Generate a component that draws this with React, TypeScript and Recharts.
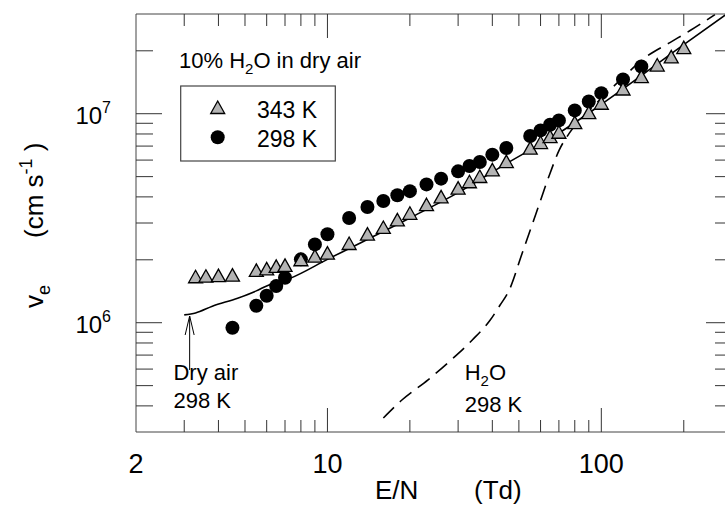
import React from "react";
import {
  ComposedChart,
  XAxis,
  YAxis,
  Scatter,
  Line,
  Legend,
  ReferenceLine,
  ReferenceDot,
} from "recharts";

const FONT = "'Liberation Sans', Arial, Helvetica, sans-serif";
const INK = "#333";
const GREY = "#b4b4b4";

// 10% H2O in dry air, 343 K: E/N (Td) and drift velocity (cm/s)
const en343 = [
  3.3, 3.6, 4.0, 4.5, 5.5, 6, 6.5, 7, 8, 9, 10, 12, 14, 16, 18, 20, 23, 26, 30,
  33, 36, 40, 45, 55, 60, 65, 70, 80, 90, 100, 120, 140, 160, 180, 200,
];
const ve343 = [
  1.65e6, 1.66e6, 1.67e6, 1.68e6, 1.77e6, 1.8e6, 1.85e6, 1.87e6, 1.99e6, 2.07e6,
  2.14e6, 2.38e6, 2.64e6, 2.84e6, 3.09e6, 3.32e6, 3.65e6, 3.98e6, 4.38e6, 4.7e6,
  4.98e6, 5.36e6, 5.87e6, 6.81e6, 7.24e6, 7.73e6, 8.11e6, 9.02e6, 1.007e7,
  1.116e7, 1.306e7, 1.496e7, 1.7e7, 1.86e7, 2.06e7,
];

// 10% H2O in dry air, 298 K
const en298 = [
  4.5, 5.5, 6, 6.5, 7, 8, 9, 10, 12, 14, 16, 18, 20, 23, 26, 30, 33, 36, 40, 45,
  55, 60, 65, 70, 80, 90, 100, 120, 140,
];
const ve298 = [
  9.46e5, 1.206e6, 1.346e6, 1.497e6, 1.64e6, 2.01e6, 2.37e6, 2.65e6, 3.17e6,
  3.58e6, 3.82e6, 4.07e6, 4.26e6, 4.59e6, 4.89e6, 5.3e6, 5.62e6, 5.87e6, 6.37e6,
  6.85e6, 7.82e6, 8.32e6, 8.86e6, 9.29e6, 1.037e7, 1.145e7, 1.254e7, 1.458e7,
  1.682e7,
];

// dry air 298 K (solid curve)
const dryEn = [3.0, 3.3, 3.8, 4.7, 5.5, 6.0, 7.3, 10, 20, 30, 45, 70, 100, 200, 285];
const dryVe = [
  1.09e6, 1.114e6, 1.2e6, 1.31e6, 1.42e6, 1.5e6, 1.63e6, 2.01e6, 3.17e6, 4.19e6,
  5.77e6, 8.08e6, 1.108e7, 2.14e7, 2.98e7,
];

// pure H2O 298 K (dashed curve)
const h2oEn = [
  16.0, 18.75, 23.3, 28.3, 33.8, 39.3, 42.7, 46.1, 51.4, 57.8, 65.0, 70.1, 76.3,
  87.3, 100.7, 121, 144.5, 178, 211, 260,
];
const h2oVe = [
  3.5e5, 4.28e5, 5.33e5, 6.64e5, 8.27e5, 1.03e6, 1.215e6, 1.433e6, 2.15e6,
  3.34e6, 5.19e6, 6.68e6, 8.05e6, 9.92e6, 1.196e7, 1.507e7, 1.857e7, 2.19e7,
  2.5e7, 2.98e7,
];

const xTicks = [2, 3, 4, 5, 6, 7, 8, 9, 10, 20, 30, 40, 50, 60, 70, 80, 90, 100, 200, 300];
const xMajor = [10, 100];
const xLabels: Record<number, string> = { 2: "2", 10: "10", 100: "100" };

const yTicks = [
  4e5, 5e5, 6e5, 7e5, 8e5, 9e5, 1e6, 2e6, 3e6, 4e6, 5e6, 6e6, 7e6, 8e6, 9e6, 1e7, 2e7,
];
const yMajor: Record<number, string> = { 1e6: "6", 1e7: "7" };

const NAME343 = "343 K";
const NAME298 = "298 K";

const zip = (xs: number[], ys: number[]) => xs.map((x, i) => ({ x, y: ys[i] }));
const pts343 = zip(en343, ve343);
const pts298 = zip(en298, ve298);
const dry = zip(dryEn, dryVe);
const h2o = zip(h2oEn, h2oVe);

function triPoints(cx: number, cy: number) {
  return `${cx},${cy - 7} ${cx + 7},${cy + 5.5} ${cx - 7},${cy + 5.5}`;
}

function Tri(p: any) {
  if (p.cx == null || p.cy == null) return null;
  return <polygon points={triPoints(p.cx, p.cy)} fill={GREY} stroke="#000" strokeWidth={1.3} />;
}

function Dot(p: any) {
  if (p.cx == null || p.cy == null) return null;
  return <circle cx={p.cx} cy={p.cy} r={7} fill="#000" />;
}

function BottomTick(p: any) {
  const v = p.payload.value;
  const len = xMajor.includes(v) ? 24 : 12;
  const edge = v === 2 || v === 300;
  return (
    <g>
      {!edge && <line x1={p.x} x2={p.x} y1={p.y} y2={p.y - len} stroke={INK} />}
      {xLabels[v] && (
        <text x={p.x} y={p.y + 41} textAnchor="middle" fontSize={27} fontFamily={FONT} fill="#000">
          {xLabels[v]}
        </text>
      )}
    </g>
  );
}

function TopTick(p: any) {
  const v = p.payload.value;
  if (v === 2 || v === 300) return <g />;
  const len = xMajor.includes(v) ? 24 : 12;
  return <line x1={p.x} x2={p.x} y1={p.y} y2={p.y + len} stroke={INK} />;
}

function LeftTick(p: any) {
  const v = p.payload.value;
  const exp = yMajor[v];
  const len = exp ? 26 : 17;
  return (
    <g>
      <line x1={p.x} x2={p.x + len} y1={p.y} y2={p.y} stroke={INK} />
      {exp && (
        <text x={p.x - 25} y={p.y + 10} textAnchor="end" fontSize={24} fontFamily={FONT} fill="#000">
          10
          <tspan dy={-11} fontSize={16}>
            {exp}
          </tspan>
        </text>
      )}
    </g>
  );
}

function RightTick(p: any) {
  const v = p.payload.value;
  const len = yMajor[v] ? 26 : 17;
  return <line x1={p.x} x2={p.x - len} y1={p.y} y2={p.y} stroke={INK} />;
}

function YTitle(p: any) {
  const vb = p.viewBox;
  const bx = vb.x + vb.width - 93;
  return (
    <g fontFamily={FONT} fontSize={26} fill="#000">
      <text transform={`translate(${bx},${vb.y + 294}) rotate(-90)`}>
        v<tspan dy={7} fontSize={18}>e</tspan>
      </text>
      <text transform={`translate(${bx},${vb.y + 224}) rotate(-90)`}>
        (cm s<tspan dy={-11} fontSize={18}>-1</tspan>
        <tspan dy={11}> )</tspan>
      </text>
    </g>
  );
}

function XTitle(p: any) {
  const vb = p.viewBox;
  return (
    <g fontFamily={FONT} fontSize={26} fill="#000">
      <text x={vb.x + 239} y={vb.y + 67}>E/N</text>
      <text x={vb.x + 338} y={vb.y + 67}>(Td)</text>
    </g>
  );
}

function KeyBox() {
  return (
    <svg width={170} height={120} style={{ display: "block", overflow: "visible" }}>
      <text x={0} y={20.3} fontSize={22} fontFamily={FONT} fill="#000">
        10% H<tspan dy={6} fontSize={15}>2</tspan>
        <tspan dy={-6}>O in dry air</tspan>
      </text>
      <rect x={1.7} y={38} width={154.6} height={75} fill="none" stroke="#444" strokeWidth={1.2} />
      <polygon points={triPoints(38.7, 60)} fill={GREY} stroke="#000" strokeWidth={1.3} />
      <circle cx={38.7} cy={89.3} r={7} fill="#000" />
      <text x={78} y={70.3} fontSize={23} fontFamily={FONT} fill="#000">
        {NAME343}
      </text>
      <text x={78} y={98.7} fontSize={23} fontFamily={FONT} fill="#000">
        {NAME298}
      </text>
    </svg>
  );
}

function Note(lines: React.ReactNode[], gap: number) {
  return (p: any) => (
    <g fontFamily={FONT} fontSize={22} fill="#000">
      {lines.map((l, i) => (
        <text key={i} x={p.cx} y={p.cy + i * gap}>
          {l}
        </text>
      ))}
    </g>
  );
}

function Arrow(p: any) {
  const { x1, y1, x2, y2 } = p;
  return (
    <g stroke="#000" strokeWidth={1} fill="none">
      <line x1={x1} y1={y1} x2={x2} y2={y2} />
      <polyline points={`${x1 - 4.5},${y1 + 19} ${x1},${y1} ${x1 + 4.5},${y1 + 19}`} />
    </g>
  );
}

export default function App() {
  const axisX = {
    type: "number" as const,
    dataKey: "x",
    scale: "log" as const,
    domain: [2, 300],
    allowDataOverflow: true,
    ticks: xTicks,
    interval: 0,
    tickLine: false,
    tickSize: 0,
    tickMargin: 0,
    height: 1,
    stroke: "#444",
  };
  const axisY = {
    type: "number" as const,
    dataKey: "y",
    scale: "log" as const,
    domain: [3e5, 3e7],
    allowDataOverflow: true,
    ticks: yTicks,
    interval: 0,
    tickLine: false,
    tickSize: 0,
    tickMargin: 0,
    width: 1,
    stroke: "#444",
  };
  return (
    <div
      style={{
        position: "absolute",
        left: 8,
        top: 8,
        width: 717,
        height: 498,
        overflow: "hidden",
        background: "#fff",
      }}
    >
      <ComposedChart width={740} height={500} margin={{ top: 5, right: 15, bottom: 75, left: 127 }}>
        <XAxis xAxisId="b" {...axisX} tick={<BottomTick />} label={{ content: XTitle }} />
        <XAxis xAxisId="t" orientation="top" {...axisX} tick={<TopTick />} />
        <YAxis yAxisId="l" {...axisY} tick={<LeftTick />} label={{ content: YTitle }} />
        <YAxis yAxisId="r" orientation="right" {...axisY} tick={<RightTick />} />
        <Legend
          layout="horizontal"
          verticalAlign="middle"
          content={() => <KeyBox />}
          wrapperStyle={{ left: 171, top: 40, width: 170, height: 120 }}
        />
        <Scatter
          name={NAME298}
          data={pts298}
          xAxisId="b"
          yAxisId="l"
          shape={Dot}
          isAnimationActive={false}
        />
        <Scatter
          name={NAME343}
          data={pts343}
          xAxisId="b"
          yAxisId="l"
          shape={Tri}
          isAnimationActive={false}
        />
        <Line
          data={dry}
          dataKey="y"
          xAxisId="b"
          yAxisId="l"
          type="monotone"
          stroke="#000"
          strokeWidth={1.6}
          dot={false}
          legendType="none"
          isAnimationActive={false}
        />
        <Line
          data={h2o}
          dataKey="y"
          xAxisId="b"
          yAxisId="l"
          type="monotone"
          stroke="#000"
          strokeWidth={1.6}
          strokeDasharray="15 8"
          dot={false}
          legendType="none"
          isAnimationActive={false}
        />
        <ReferenceLine
          xAxisId="b"
          yAxisId="l"
          segment={[
            { x: 3.14, y: 1.077e6 },
            { x: 3.14, y: 5.94e5 },
          ]}
          shape={Arrow}
        />
        <ReferenceDot
          xAxisId="b"
          yAxisId="l"
          x={2.74}
          y={5.33e5}
          r={0}
          shape={Note(["Dry air", "298 K"], 28.3)}
        />
        <ReferenceDot
          xAxisId="b"
          yAxisId="l"
          x={31.7}
          y={5.33e5}
          r={0}
          shape={Note(
            [
              <>
                H<tspan dy={6} fontSize={15}>2</tspan>
                <tspan dy={-6}>O</tspan>
              </>,
              "298 K",
            ],
            31.7
          )}
        />
      </ComposedChart>
    </div>
  );
}
